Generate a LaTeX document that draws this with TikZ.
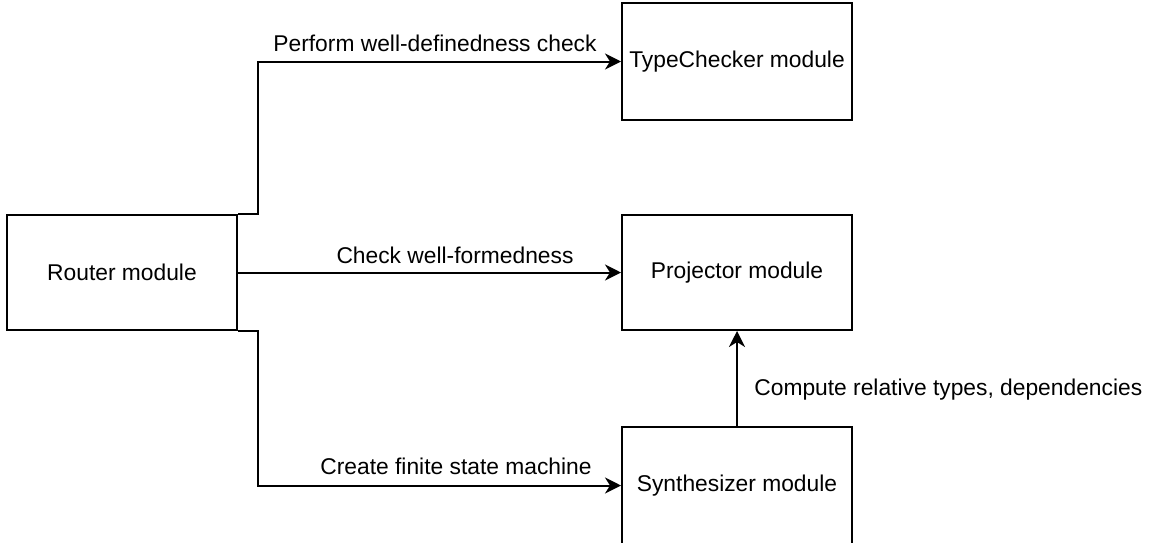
\documentclass[tikz,border=0pt]{standalone}
\usepackage{fontspec}
\setmainfont{Liberation Sans}
\usetikzlibrary{arrows.meta}
\begin{document}
\begin{tikzpicture}[x=0.5pt,y=-0.5pt,
  module/.style={draw=black, line width=1pt, fill=white, minimum width=115pt,
    minimum height=57.5pt, inner sep=0pt, font=\fontsize{11.4pt}{13pt}\selectfont},
  flow/.style={draw=black, line width=1pt,
    -{Stealth[length=8pt,width=8pt,inset=2.5pt]}},
  lbl/.style={inner sep=0pt, font=\fontsize{11.4pt}{13pt}\selectfont}]
\useasboundingbox (0,0) rectangle (1151,542);

% module boxes
\node[module] (router) at (122,272.5) {Router module};
\node[module, minimum height=58.5pt] (tc) at (737,61.5) {TypeChecker module};
\node[module] (proj) at (737,272.5) {Projector module};
\node[module, minimum height=58.5pt] (synth) at (737,485.5) {};
\node[lbl] (synthtext) at (737,486) {Synthesizer module};

% connectors out of the router
\draw[flow] (router.north east) -- ++(20,0) |- (tc.west);
\draw[flow] (router.east) -- (proj.west);
\draw[flow] (router.south east) -- ++(20,0) |- (synth.west);
\draw[flow] (synth.north) -- (proj.south);

% connector labels
\node[lbl] (l1) at (435,43) {Perform well-definedness check};
\node[lbl] (l2) at (455,255) {Check well-formedness};
\node[lbl] (l3) at (456,466) {Create finite state machine};
\node[lbl, anchor=west] (l4) at (754,390) {Compute relative types, dependencies};
\end{tikzpicture}
\end{document}
